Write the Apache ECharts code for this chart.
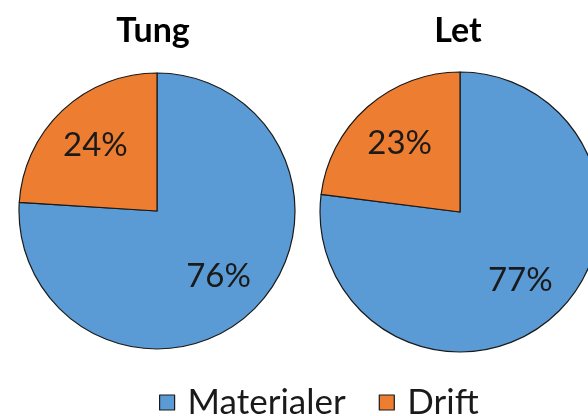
<!DOCTYPE html>
<html>
<head>
<meta charset="utf-8">
<script src="https://cdn.jsdelivr.net/npm/echarts@6/dist/echarts.min.js"></script>
<style>
  html, body { margin: 0; padding: 0; background: #fff; }
  #chart { width: 588px; height: 416px; }
</style>
</head>
<body>
<div id="chart"></div>
<script>
const categories = ["Materialer", "Drift"];
const tungValues = [76, 24];
const letValues = [77, 23];
const pieTitles = ["Tung", "Let"];

const colors = ["#5B9BD5", "#ED7D31"];
const font = "Lato, 'Open Sans', sans-serif";

const chart = echarts.init(document.getElementById("chart"), null, { renderer: "canvas" });

const toData = (values) =>
  categories.map((name, i) => ({ name, value: values[i] }));

// main pie with outline
const pie = (values, center, radius) => ({
  type: "pie",
  center,
  radius,
  startAngle: 90,
  clockwise: true,
  silent: true,
  label: { show: false },
  labelLine: { show: false },
  itemStyle: { borderColor: "#1a1a1a", borderWidth: 1.2 },
  data: toData(values),
});

// invisible pie only used to push the labels out to ~0.63 r
const labelPie = (values, center, radius) => ({
  type: "pie",
  center,
  radius: radius * 1.26,
  startAngle: 90,
  clockwise: true,
  silent: true,
  legendHoverLink: false,
  itemStyle: { color: "rgba(0,0,0,0)", borderWidth: 0 },
  label: {
    show: true,
    position: "inside",
    formatter: "{d}%",
    color: "#1a1a1a",
    fontFamily: font,
    fontSize: 33,
  },
  labelLine: { show: false },
  data: toData(values),
});

const titleStyle = { fontFamily: font, fontWeight: "bold", fontSize: 34, color: "#000" };

const option = {
  animation: false,
  color: colors,
  title: [
    { text: pieTitles[0], left: 148, top: 9, textAlign: "center", textStyle: titleStyle },
    { text: pieTitles[1], left: 453, top: 9, textAlign: "center", textStyle: titleStyle },
  ],
  legend: {
    top: 380,
    left: 154,
    icon: "rect",
    itemWidth: 15,
    itemHeight: 15,
    itemGap: 33,
    selectedMode: false,
    data: categories.map((name, i) => ({
      name,
      itemStyle: { color: colors[i], borderColor: "#1a1a1a", borderWidth: 1.2 },
    })),
    textStyle: { fontFamily: font, fontSize: 35, color: "#1a1a1a", padding: [0, 0, 0, 8] },
  },
  series: [
    pie(tungValues, [157, 211], 138),
    pie(letValues, [460, 212], 140),
    labelPie(tungValues, [157, 211], 138),
    labelPie(letValues, [460, 212], 140),
  ],
};

chart.setOption(option);
</script>
</body>
</html>
